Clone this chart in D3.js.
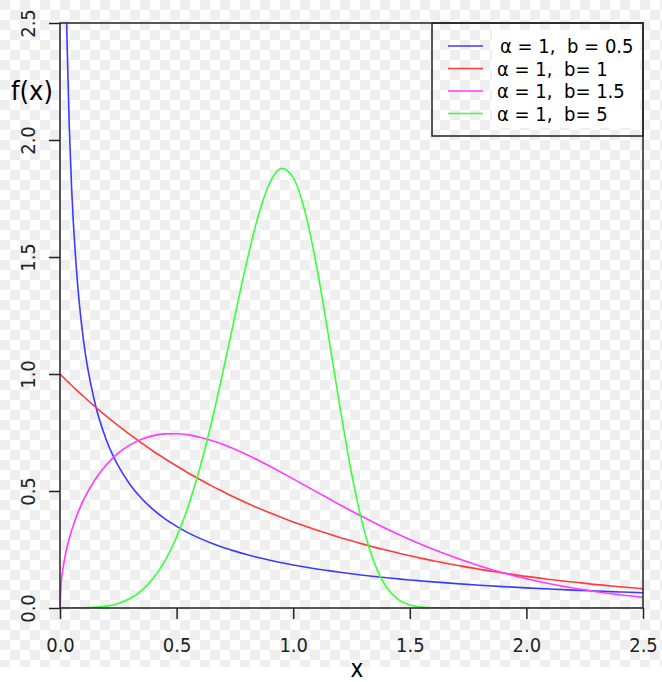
<!DOCTYPE html>
<html><head><meta charset="utf-8">
<script src="https://cdn.jsdelivr.net/npm/d3@7"></script>
<style>body{margin:0;background:#fff}svg{display:block}</style>
</head><body>
<svg id="c" width="662" height="682"></svg>
<script>
const xs = [0,0.005,0.01,0.02,0.03,0.04,0.05,0.075,0.1,0.15,0.2,0.25,0.3,0.35,0.4,0.45,0.5,0.55,0.6,0.65,0.7,0.75,0.8,0.85,0.9,0.95,1.0,1.05,1.1,1.15,1.2,1.25,1.3,1.35,1.4,1.45,1.5,1.55,1.6,1.7,1.8,1.9,2.0,2.1,2.2,2.3,2.4,2.5];
const blueB05 = [null,6.59,4.52,3.07,2.43,2.05,1.79,1.39,1.15,0.876,0.715,0.607,0.528,0.468,0.420,0.381,0.349,0.321,0.2975,0.277,0.259,0.243,0.2286,0.2157,0.2041,0.1935,0.1839,0.1751,0.1670,0.1596,0.1526,0.1462,0.1402,0.1347,0.1294,0.1245,0.1199,0.1156,0.1116,0.1041,0.0974,0.0914,0.0860,0.0810,0.0765,0.0724,0.0685,0.0650];
const redB1 = [1,0.995,0.990,0.980,0.970,0.961,0.951,0.928,0.905,0.861,0.819,0.779,0.741,0.705,0.670,0.638,0.607,0.577,0.549,0.522,0.497,0.472,0.449,0.427,0.407,0.387,0.368,0.350,0.333,0.317,0.301,0.287,0.273,0.259,0.247,0.235,0.223,0.212,0.202,0.183,0.165,0.150,0.135,0.122,0.111,0.100,0.091,0.082];
const magentaB15 = [0,0.106,0.150,0.2115,0.2585,0.2976,0.3317,0.4025,0.4596,0.5482,0.6134,0.6619,0.6971,0.7214,0.7367,0.7440,0.7448,0.7397,0.7300,0.7160,0.6987,0.6785,0.6559,0.6316,0.6059,0.5791,0.5518,0.5241,0.4964,0.4688,0.4414,0.4146,0.3886,0.3631,0.3386,0.3152,0.2926,0.2712,0.2506,0.2132,0.1799,0.1507,0.1254,0.1037,0.0852,0.0696,0.0565,0.0455];
const greenB5 = [0,0,0,0,0,0,0,0,0.0005,0.0025,0.008,0.0195,0.0404,0.0746,0.1267,0.2013,0.3029,0.4351,0.5995,0.7948,1.0148,1.2479,1.4758,1.6749,1.8177,1.8787,1.8394,1.6962,1.4626,1.1701,0.8616,0.5774,0.3486,0.1875,0.0886,0.0364,0.0127,0.0038,0.0009,0,0,0,0,0,0,0,0,0];
const xTicks = [0,0.5,1.0,1.5,2.0,2.5];
const yTicks = [0,0.5,1.0,1.5,2.0,2.5];
const legendLabels = ["α = 1,  b = 0.5","α = 1,  b= 1","α = 1,  b= 1.5","α = 1,  b= 5"];
const colors = ["#3b3bff","#ff3b3b","#ff3bff","#3bff3b"];
const seriesList = [blueB05, redB1, magentaB15, greenB5];

const FONT = "'DejaVu Sans Condensed', 'DejaVu Sans', sans-serif";
const svg = d3.select("#c");
const W = 662, H = 682;
// checkerboard background
const defs = svg.append("defs");
const pat = defs.append("pattern").attr("id","chk").attr("width",20).attr("height",20).attr("patternUnits","userSpaceOnUse");
pat.append("rect").attr("width",20).attr("height",20).attr("fill","#ffffff");
pat.append("rect").attr("width",10).attr("height",10).attr("fill","#efefef");
pat.append("rect").attr("x",10).attr("y",10).attr("width",10).attr("height",10).attr("fill","#efefef");
svg.append("rect").attr("width",W).attr("height",667).attr("fill","url(#chk)");

const L = 60, R = 643, T = 23, B = 608;
const x = d3.scaleLinear().domain([0,2.5]).range([L,R]);
const y = d3.scaleLinear().domain([0,2.5]).range([B,T]);

defs.append("clipPath").attr("id","clip").append("rect").attr("x",L).attr("y",T).attr("width",R-L).attr("height",B-T);

const line = d3.line().defined(d=>d[1]!==null).x(d=>x(d[0])).y(d=>y(d[1])).curve(d3.curveMonotoneX);
const g = svg.append("g").attr("clip-path","url(#clip)");
seriesList.forEach((s,i)=>{
  g.append("path").attr("d", line(xs.map((v,j)=>[v,s[j]]))).attr("fill","none").attr("stroke",colors[i]).attr("stroke-width",1.6);
});

// axes
const ax = svg.append("g").attr("transform",`translate(0,${B})`).call(d3.axisBottom(x).tickValues(xTicks).tickFormat(d3.format(".1f")).tickSize(11));
const ay = svg.append("g").attr("transform",`translate(${L},0)`).call(d3.axisLeft(y).tickValues(yTicks).tickFormat(d3.format(".1f")).tickSize(11));
[ax,ay].forEach(a=>{
  a.select(".domain").remove();
  a.selectAll("line").attr("stroke","#222").attr("stroke-width",1.5);
  a.selectAll("text").attr("fill","#222").style("font-family",FONT).style("font-size","20px");
});
ay.selectAll(".tick text").attr("transform","rotate(-90)").attr("x",0).attr("y",-25).attr("dy","0").attr("text-anchor","middle");
ax.selectAll(".tick text").attr("y",44).attr("dy","0");

svg.append("rect").attr("x",L).attr("y",T).attr("width",R-L).attr("height",B-T).attr("fill","none").attr("stroke","#222").attr("stroke-width",1.5);

svg.append("text").attr("x",11).attr("y",100).text("f(x)").style("font-family",FONT).style("font-size","27px").attr("fill","#000");
svg.append("text").attr("x",357).attr("y",677).attr("text-anchor","middle").text("x").style("font-family",FONT).style("font-size","24px").attr("fill","#000");

// legend
const lg = svg.append("g");
lg.append("rect").attr("x",492).attr("y",30).attr("width",148).attr("height",98).attr("fill","#fff");
lg.append("rect").attr("x",432).attr("y",23).attr("width",211).attr("height",113).attr("fill","none").attr("stroke","#222").attr("stroke-width",1.5);
legendLabels.forEach((t,i)=>{
  const yy = 46 + i*22.5;
  lg.append("line").attr("x1",448).attr("x2",483).attr("y1",yy).attr("y2",yy).attr("stroke",colors[i]).attr("stroke-width",1.6);
  lg.append("text").attr("x", i===0?500:497).attr("y",yy+7).text(t).style("font-family",FONT).style("font-size","20px").attr("fill","#000").style("white-space","pre");
});
</script>
</body></html>
